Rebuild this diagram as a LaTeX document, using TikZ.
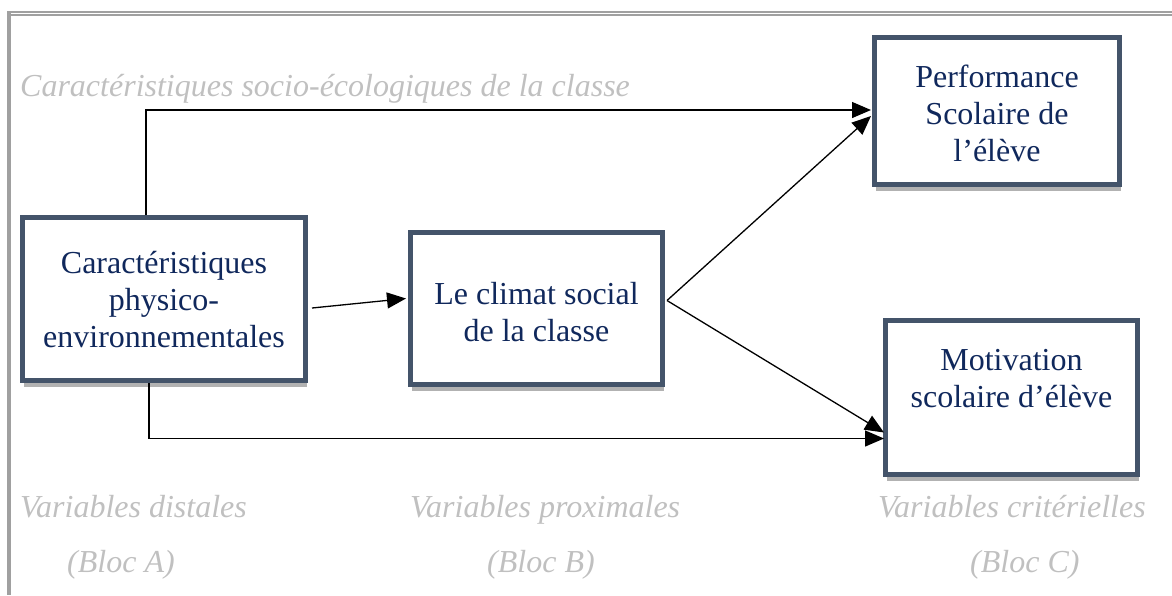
\documentclass[tikz,border=0pt]{standalone}
\usepackage{fontspec}
\setmainfont{Liberation Serif}
\usetikzlibrary{arrows.meta,shadows}
\definecolor{boxline}{RGB}{68,84,106}
\definecolor{boxtext}{RGB}{16,40,92}
\definecolor{graytext}{RGB}{192,192,192}
\definecolor{framegray}{RGB}{160,160,160}
\tikzset{
  blockbox/.style={draw=boxline, line width=5pt, fill=white, inner sep=0pt,
    drop shadow={shadow xshift=1pt, shadow yshift=-6pt, fill=black!30, opacity=1}},
  boxlabel/.style={text=boxtext, align=center, font=\fontsize{32}{37}\selectfont, inner sep=0pt},
  graylabel/.style={text=graytext, anchor=base west, inner sep=0pt, font=\fontsize{32}{37}\selectfont\itshape},
  link/.style={line width=1.3pt, -{Triangle[length=19pt,width=16pt]}},
  framestyle/.style={draw=framegray}
}
\begin{document}
\begin{tikzpicture}[x=1pt,y=-1pt]
\useasboundingbox (0,0) rectangle (1172,595);
% frame
\fill[framegray] (7,11) rectangle (11,595);
\draw[framestyle, line width=1.6pt] (7,11.8) -- (1172,11.8);
\draw[framestyle, line width=1.6pt] (11,14.8) -- (1172,14.8);
% boxes
\node[blockbox, minimum width=283pt, minimum height=163pt] (A) at (164,299) {};
\node[boxlabel] (Atxt) at (164,300) {Caractéristiques\\physico-\\environnementales};
\node[blockbox, minimum width=252pt, minimum height=152pt] (B) at (536.5,308.5) {};
\node[boxlabel] (Btxt) at (536.5,312) {Le climat social\\de la classe};
\node[blockbox, minimum width=245pt, minimum height=147pt] (C1) at (997,111) {};
\node[boxlabel] (C1txt) at (997,113) {Performance\\Scolaire de\\l’élève};
\node[blockbox, minimum width=252pt, minimum height=154pt] (C2) at (1011.5,397.5) {};
\node[boxlabel] (C2txt) at (1011.5,379) {Motivation\\scolaire d’élève};
% gray labels
\node[graylabel] (t0) at (20,96) {Caractéristiques socio-écologiques de la classe};
\node[graylabel] (t1) at (20,517) {Variables distales};
\node[graylabel] (t2) at (67,572) {(Bloc A)};
\node[graylabel] (t3) at (410,517) {Variables proximales};
\node[graylabel] (t4) at (487,572) {(Bloc B)};
\node[graylabel] (t5) at (878,517) {Variables critérielles};
\node[graylabel] (t6) at (970,572) {(Bloc C)};
% connectors
\draw[link] ([xshift=-18pt,yshift=0pt]A.north) |- ([xshift=-1pt,yshift=1pt]C1.west);
\draw[link] ([xshift=-15pt]A.south) |- ([xshift=1pt,yshift=-41pt]C2.west);
\draw[link] ([xshift=4pt,yshift=-9pt]A.east) -- ([xshift=-2pt,yshift=10pt]B.west);
\draw[link] ([xshift=2pt,yshift=8pt]B.east) -- ([xshift=-1pt,yshift=-5pt]C1.west);
\draw[link] ([xshift=2pt,yshift=8pt]B.east) -- ([xshift=1pt,yshift=-35pt]C2.west);
\end{tikzpicture}
\end{document}
